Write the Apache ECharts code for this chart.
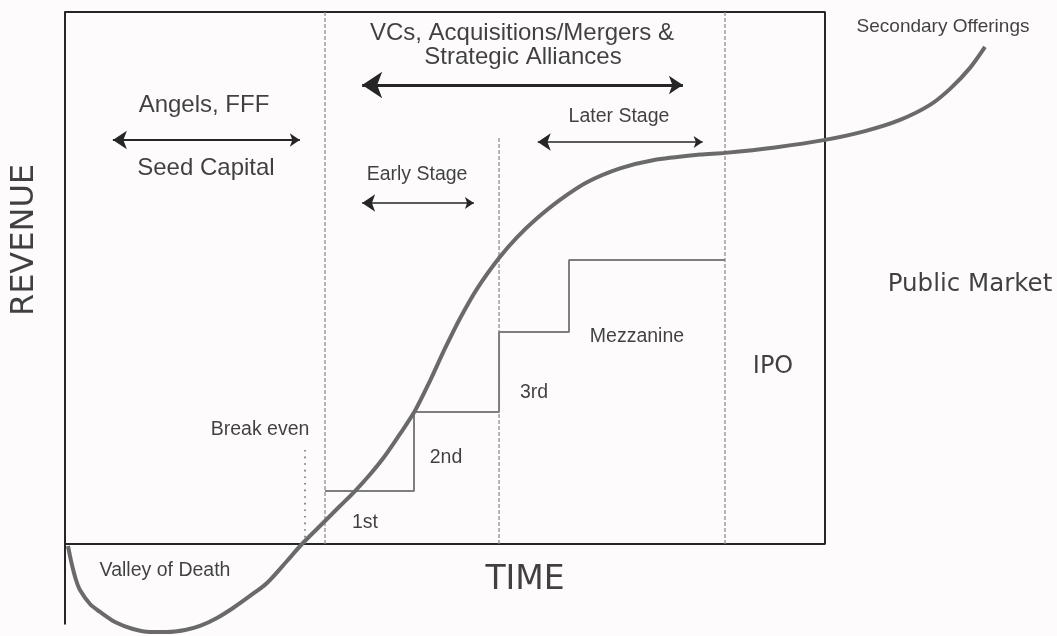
<!DOCTYPE html>
<html>
<head>
<meta charset="utf-8">
<script src="https://cdn.jsdelivr.net/npm/echarts@6/dist/echarts.min.js"></script>
<style>
html,body{margin:0;padding:0;background:#fdfbfc;}
#chart{width:1057px;height:636px;}
</style>
</head>
<body>
<div id="chart"></div>
<script>
// Revenue curve over time (time 0..100 = chart box, revenue 0..100 = box height)
const curveTime = [0.39,0.66,0.92,1.45,1.97,3.29,4.61,6.58,8.95,11.18,13.42,15.79,17.76,20.0,22.11,24.34,26.58,29.21,31.18,34.21,36.18,38.16,40.13,42.11,44.08,46.05,48.03,50.0,51.97,54.21,57.11,59.47,62.11,65.13,68.68,73.03,77.37,83.55,86.84,93.42,100,105.26,109.87,113.82,116.45,119.08,121.05];
const curveRevenue = [-0.38,-2.26,-3.95,-6.77,-8.65,-11.28,-12.78,-14.66,-15.98,-16.54,-16.54,-16.17,-15.41,-13.91,-12.03,-9.77,-7.33,-3.20,0,4.32,7.14,9.96,13.06,16.58,20.68,25.04,30.68,36.75,42.39,47.97,53.76,57.65,61.22,64.68,67.99,70.60,72.14,73.20,73.52,74.55,75.96,77.61,79.72,82.54,85.55,89.50,93.44];

// Funding rounds staircase
const stepTime = [34.21,45.92,57.11,66.32,86.84];
const stepRevenue = [9.96,24.81,39.85,53.38,53.38];

// Stage boundaries (dashed)
const boundaryTime = [34.21,57.11,86.84];
const boundaryTop = [100,76.5,100];
const breakEvenTime = 31.58;
const breakEvenTop = 18.2;

// Frame of the box (bottom, right, top edges)
const frameTime = [0,100,100,0];
const frameRevenue = [0,0,100,100];

// Double arrows
const arrowStart = [6.3,39.1,62.2,39.1];
const arrowEnd = [30.9,81.3,83.9,53.8];
const arrowLevel = [75.94,86.28,75.56,64.1];
const arrowWidth = [2,3,1.5,1.5];
const arrowHead = [[14,10],[20,14],[13,9],[13,9]];

// Text labels
const labelText = ["Angels, FFF","Seed Capital","VCs, Acquisitions/Mergers &","Strategic Alliances","Early Stage","Later Stage","Secondary Offerings","Break even","Valley of Death","1st","2nd","3rd","Mezzanine"];
const labelTime = [18.29,18.55,60.13,60.26,46.32,72.89,115.53,25.66,13.16,39.47,50.13,61.71,75.26];
const labelRevenue = [82.52,70.68,96.05,91.54,69.36,80.26,97.18,21.43,-5.08,3.95,16.17,28.38,38.91];
const labelSize = [24,24,24,24,19.5,19.5,19,19.5,19.5,19.5,19.5,19.5,19.5];

const sansText = ["IPO","Public Market","TIME","REVENUE"];
const sansTime = [93.16,119.08,60.53,-5.26];
const sansRevenue = [33.27,48.68,-6.77,57.14];
const sansSize = [24,24.5,33,32];
const sansRotate = [0,0,0,90];

const chart = echarts.init(document.getElementById('chart'), null, {renderer:'canvas'});

const series = [];
// frame
series.push({type:'line', data: frameTime.map((t,i)=>[t,frameRevenue[i]]), showSymbol:false, silent:true, clip:false,
  lineStyle:{color:'#262626', width:2}, z:2});
// dashed boundaries
boundaryTime.forEach((t,i)=>{
  series.push({type:'line', data:[[t,0],[t,boundaryTop[i]]], showSymbol:false, silent:true,
    lineStyle:{color:'#8f8f8f', width:1.3, type:[4,2]}, z:2});
});
series.push({type:'line', data:[[breakEvenTime,0],[breakEvenTime,breakEvenTop]], showSymbol:false, silent:true,
  lineStyle:{color:'#6f6f6f', width:1.6, type:[1.6,5]}, z:2});
// steps
series.push({type:'line', step:'end', data: stepTime.map((t,i)=>[t,stepRevenue[i]]), showSymbol:false, silent:true,
  lineStyle:{color:'#7e7e7e', width:2}, z:3});
// arrows
arrowStart.forEach((s,i)=>{
  series.push({type:'lines', coordinateSystem:'cartesian2d', silent:true,
    symbol:['arrow','arrow'], symbolSize:arrowHead[i],
    lineStyle:{color:'#262626', width:arrowWidth[i], opacity:1, curveness:0},
    data:[{coords:[[s,arrowLevel[i]],[arrowEnd[i],arrowLevel[i]]]}], z:4});
});
// revenue curve
series.push({type:'line', data: curveTime.map((t,i)=>[t,curveRevenue[i]]), smooth:0.3, showSymbol:false, clip:false, silent:true,
  lineStyle:{color:'#6a6a6a', width:4}, z:5});
// labels
series.push({type:'scatter', symbolSize:0, clip:false, silent:true, z:6,
  data: labelText.map((txt,i)=>({value:[labelTime[i],labelRevenue[i]], name:txt,
    label:{show:true, position:'inside', formatter:txt, color:'#111111', fontSize:labelSize[i],
      fontFamily:'Liberation Sans, Arial, sans-serif'}}))});
series.push({type:'scatter', symbolSize:0, clip:false, silent:true, z:6,
  data: sansText.map((txt,i)=>({value:[sansTime[i],sansRevenue[i]], name:txt,
    label:{show:true, position:'inside', formatter:txt, color:'#111111', fontSize:sansSize[i], rotate:sansRotate[i],
      fontFamily:'DejaVu Sans, Verdana, sans-serif'}}))});

chart.setOption({
  backgroundColor:'#fdfbfc',
  animation:false,
  grid:{left:65, right:0, top:12, bottom:12.2, containLabel:false},
  xAxis:{type:'value', min:0, max:130.526, axisLine:{show:false},
    axisTick:{show:false}, axisLabel:{show:false}, splitLine:{show:false}},
  yAxis:{type:'value', min:-15, max:100, axisLine:{show:true, onZero:false, lineStyle:{color:'#262626', width:2}},
    axisTick:{show:false}, axisLabel:{show:false}, splitLine:{show:false}},
  series: series
});
</script>
</body>
</html>
